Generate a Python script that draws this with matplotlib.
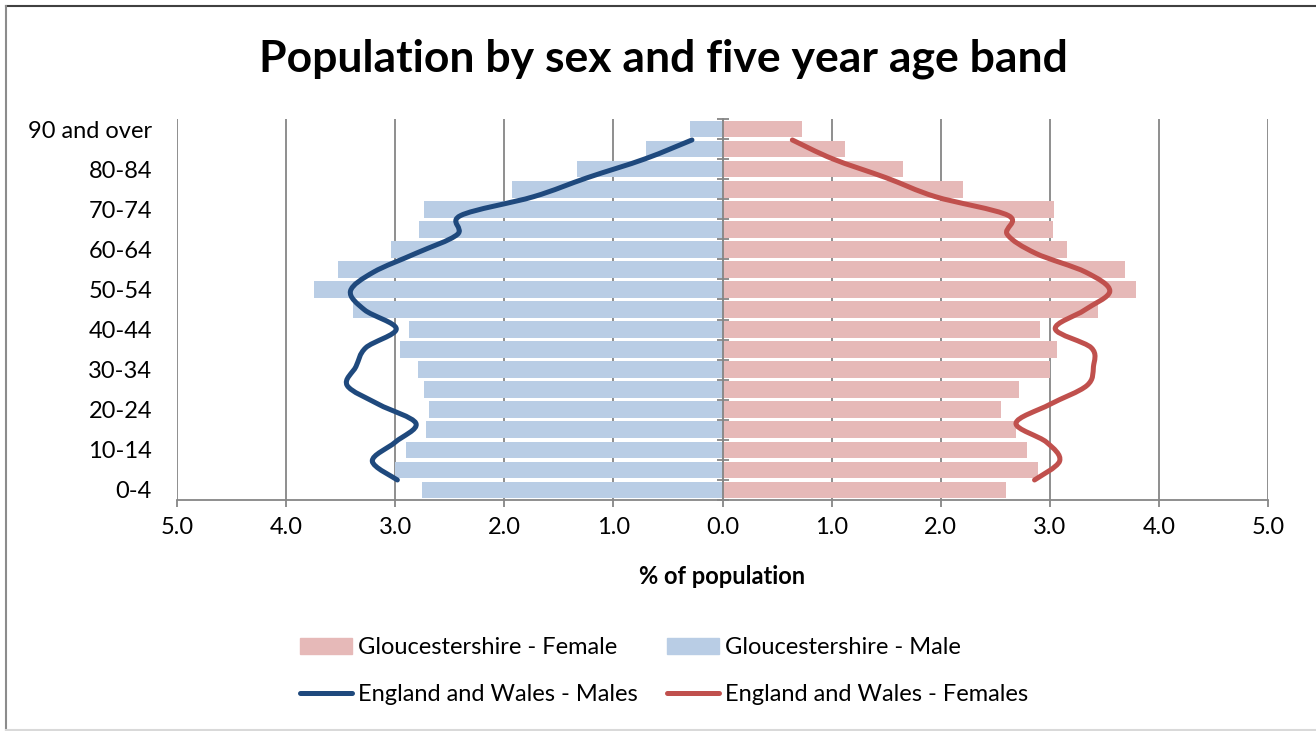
import numpy as np
import matplotlib
matplotlib.use("Agg")
import matplotlib.pyplot as plt
from matplotlib.path import Path
from matplotlib.patches import PathPatch
from matplotlib.lines import Line2D
from matplotlib.ticker import FuncFormatter, FixedLocator

plt.rcParams['font.family'] = ['Lato', 'DejaVu Sans']

# ---------------- data ----------------
age_bands = ['0-4', '5-9', '10-14', '15-19', '20-24', '25-29', '30-34', '35-39',
             '40-44', '45-49', '50-54', '55-59', '60-64', '65-69', '70-74',
             '75-79', '80-84', '85-89', '90 and over']
glos_male = [2.75, 3.00, 2.90, 2.72, 2.69, 2.74, 2.79, 2.96, 2.87, 3.39,
             3.74, 3.52, 3.04, 2.78, 2.74, 1.93, 1.33, 0.70, 0.30]
glos_female = [2.60, 2.89, 2.79, 2.69, 2.55, 2.72, 3.00, 3.07, 2.91, 3.44,
               3.79, 3.69, 3.16, 3.03, 3.04, 2.20, 1.65, 1.12, 0.73]
ew_male = [2.98, 3.21, 3.00, 2.81, 3.15, 3.44, 3.36, 3.27, 2.99, 3.28,
           3.41, 3.20, 2.81, 2.43, 2.40, 1.73, 1.24, 0.71, 0.28]
ew_female = [2.86, 3.09, 2.97, 2.69, 3.00, 3.34, 3.40, 3.38, 3.05, 3.32,
             3.55, 3.33, 2.87, 2.61, 2.62, 1.95, 1.50, 1.01, 0.64]
x_ticks = [-5, -4, -3, -2, -1, 0, 1, 2, 3, 4, 5]

C_MALE_BAR = '#B9CDE5'
C_FEMALE_BAR = '#E6B9B8'
C_MALE_LINE = '#1F497D'
C_FEMALE_LINE = '#C0504D'
C_GRID = '#868686'
FS = 17

W, H, DPI = 1316, 731, 100
fig = plt.figure(figsize=(W / DPI, H / DPI), dpi=DPI)

ax_l, ax_r, ax_t, ax_b = 177, 1268, 119, 500
ax = fig.add_axes([ax_l / W, 1 - ax_b / H, (ax_r - ax_l) / W, (ax_b - ax_t) / H])

y = np.arange(len(age_bands))
ax.barh(y, -np.array(glos_male), height=0.83, color=C_MALE_BAR, zorder=2)
ax.barh(y, glos_female, height=0.83, color=C_FEMALE_BAR, zorder=2)

ax.set_xlim(-5, 5)
ax.set_ylim(-0.5, len(age_bands) - 0.5)
ax.set_xticks(x_ticks)
ax.xaxis.set_major_formatter(FuncFormatter(lambda v, p: f"{abs(v):.1f}"))
ax.grid(axis='x', color=C_GRID, lw=1.3, zorder=0)
ax.set_axisbelow(True)

for s in ['top', 'right']:
    ax.spines[s].set_visible(False)
ax.spines['bottom'].set_color(C_GRID)
ax.spines['bottom'].set_linewidth(1.3)
ax.spines['left'].set_position(('data', 0))
ax.spines['left'].set_color(C_GRID)
ax.spines['left'].set_linewidth(1.3)
ax.spines['left'].set_zorder(5)

ax.tick_params(axis='x', direction='out', length=5, width=1.3, color=C_GRID,
               labelsize=FS, pad=7, labelcolor='black')

# y labels: every other band, placed to the left of the plot area
zero_px = ax_l + (0 - (-5)) / 10 * (ax_r - ax_l)
pad_pts = (zero_px - 152) * 72 / DPI
ax.yaxis.set_major_locator(FixedLocator(y[::2]))
ax.set_yticklabels(age_bands[::2])
ax.tick_params(axis='y', which='major', length=0, pad=pad_pts, labelsize=FS)
ax.yaxis.set_minor_locator(FixedLocator(np.arange(-0.5, len(age_bands), 1.0)))
ax.tick_params(axis='y', which='minor', direction='inout', length=9, width=1.3,
               color=C_GRID)

ax.set_xlabel('% of population', fontsize=FS, fontweight='bold', labelpad=20)

# England & Wales smoothed lines on secondary category axis
ax2 = ax.twinx()
ax2.set_ylim(-1.06, 19.11)
ax2.axis('off')
ax2.set_xlim(-5, 5)


def smooth_path(xs, ys):
    pts = np.column_stack([xs, ys]).astype(float)
    n = len(pts)
    verts = [pts[0]]
    codes = [Path.MOVETO]
    for i in range(n - 1):
        p0 = pts[i - 1] if i > 0 else pts[i]
        p1 = pts[i]
        p2 = pts[i + 1]
        p3 = pts[i + 2] if i + 2 < n else pts[i + 1]
        c1 = p1 + (p2 - p0) / 6.0
        c2 = p2 - (p3 - p1) / 6.0
        verts += [c1, c2, p2]
        codes += [Path.CURVE4] * 3
    return Path(verts, codes)


j = np.arange(len(ew_male))
for vals, col in [(-np.array(ew_male), C_MALE_LINE), (np.array(ew_female), C_FEMALE_LINE)]:
    patch = PathPatch(smooth_path(vals, j), facecolor='none', edgecolor=col,
                      lw=3.6, capstyle='round', joinstyle='round', zorder=6)
    ax2.add_patch(patch)

fig.text(663 / W, 1 - 59 / H, 'Population by sex and five year age band',
         ha='center', va='center', fontsize=32, fontweight='bold')

# legend
h_gf = plt.Rectangle((0, 0), 1, 1, color=C_FEMALE_BAR)
h_gm = plt.Rectangle((0, 0), 1, 1, color=C_MALE_BAR)
h_em = Line2D([], [], color=C_MALE_LINE, lw=3.6, solid_capstyle='round')
h_ef = Line2D([], [], color=C_FEMALE_LINE, lw=3.6, solid_capstyle='round')
fig.legend([h_gf, h_em, h_gm, h_ef],
           ['Gloucestershire - Female', 'England and Wales - Males',
            'Gloucestershire - Male', 'England and Wales - Females'],
           ncol=2, loc='center', bbox_to_anchor=(664 / W, 1 - 671 / H),
           frameon=False, fontsize=FS, handlelength=2.2, handleheight=0.65,
           handletextpad=0.25, columnspacing=1.25, labelspacing=1.1,
           borderpad=0)

# chart border
fig.add_artist(Line2D([6 / W, 1], [1 - 6 / H, 1 - 6 / H], color='#404040', lw=1.5,
                      transform=fig.transFigure))
fig.add_artist(Line2D([6 / W, 6 / W], [1 - 6 / H, 1 - 730 / H], color='#8c8c8c', lw=1.5,
                      transform=fig.transFigure))
fig.add_artist(Line2D([6 / W, 1], [1 - 730 / H, 1 - 730 / H], color='#d9d9d9', lw=1.5,
                      transform=fig.transFigure))

fig.savefig('out.png', dpi=DPI)
